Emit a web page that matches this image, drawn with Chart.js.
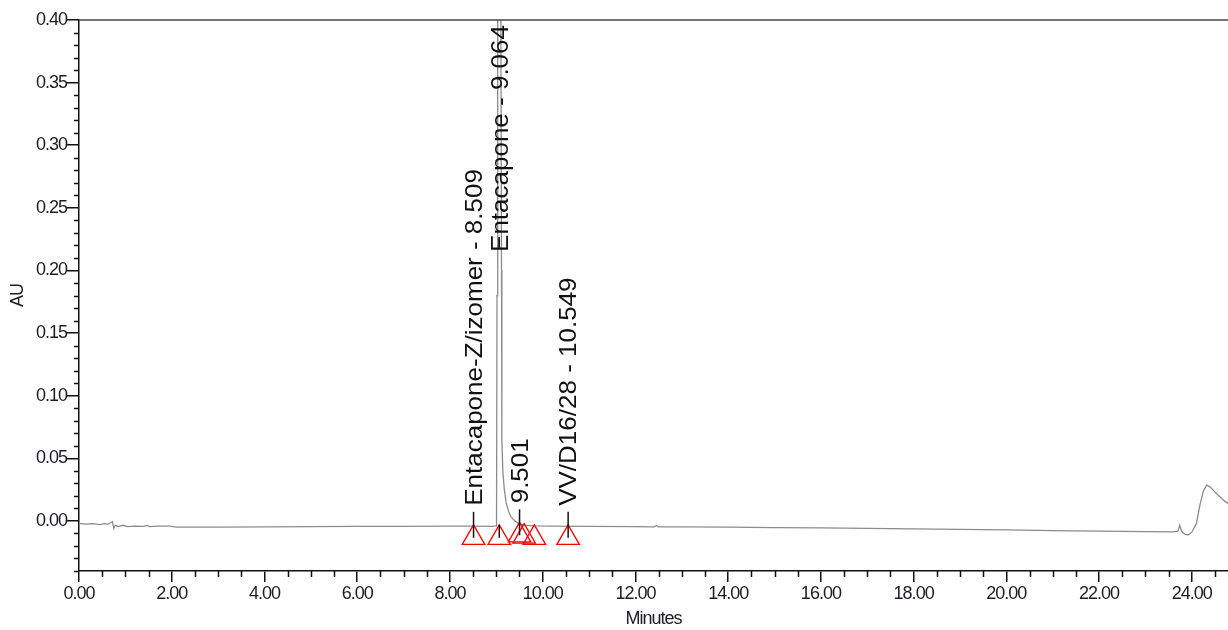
<!DOCTYPE html>
<html>
<head>
<meta charset="utf-8">
<script src="https://cdn.jsdelivr.net/npm/chart.js@4.4.1/dist/chart.umd.min.js"></script>
<style>
html,body{margin:0;padding:0;background:#fff;}
canvas{display:block;}
</style>
</head>
<body>
<canvas id="c" width="1228" height="630"></canvas>
<script>
// ---- data ----
const retentionTime = [0.00,0.15,0.30,0.45,0.55,0.62,0.68,0.72,0.75,0.78,0.85,0.95,1.05,1.20,1.40,1.47,1.52,1.70,1.95,2.10,3.00,4.00,5.00,6.00,7.00,8.00,8.50,8.90,9.00,9.005,9.015,9.03,9.064,9.095,9.112,9.12,9.14,9.17,9.21,9.26,9.32,9.40,9.50,9.65,9.85,10.20,11.00,12.00,12.40,12.45,12.50,13.00,14.00,15.00,16.00,17.00,18.00,19.00,20.00,21.00,22.00,23.00,23.60,23.70,23.74,23.78,23.85,23.92,24.00,24.10,24.17,24.25,24.32,24.40,24.50,24.60,24.70,24.78];
const absorbance = [-0.0020,-0.0025,-0.0022,-0.0030,-0.0022,-0.0028,-0.0015,-0.0005,-0.0060,-0.0035,-0.0045,-0.0035,-0.0045,-0.0042,-0.0044,-0.0036,-0.0046,-0.0042,-0.0042,-0.0050,-0.0050,-0.0048,-0.0046,-0.0044,-0.0043,-0.0042,-0.0042,-0.0043,-0.0040,0.0000,0.18,0.45,0.52,0.45,0.20,0.065,0.040,0.026,0.015,0.008,0.003,0.000,-0.0025,-0.0036,-0.0040,-0.0042,-0.0044,-0.0046,-0.0047,-0.0038,-0.0047,-0.0048,-0.0050,-0.0053,-0.0056,-0.0059,-0.0063,-0.0067,-0.0072,-0.0077,-0.0082,-0.0086,-0.0088,-0.0082,-0.0035,-0.0085,-0.0105,-0.0112,-0.0090,-0.0020,0.0120,0.0240,0.0285,0.0270,0.0230,0.0195,0.0160,0.0140];

const markerTimes = [8.509, 9.064, 9.501, 9.60, 9.82, 10.549];
const markerAU    = [-0.0135, -0.0135, -0.0115, -0.0125, -0.0135, -0.0135];

const peakNames = ['Entacapone-Z/izomer - 8.509', 'Entacapone - 9.064', '9.501', 'VV/D16/28 - 10.549'];
const peakTimes = [8.509, 9.064, 9.501, 10.549];
const peakMarkerAU = [-0.0135, -0.0135, -0.0115, -0.0135];
const peakLabelOnTop = [false, true, false, false];

const xTickValues = [0,2,4,6,8,10,12,14,16,18,20,22,24];
const yTickValues = [0.00,0.05,0.10,0.15,0.20,0.25,0.30,0.35,0.40];
const xTitle = 'Minutes';
const yTitle = 'AU';

// ---- drawing ----
const FONT = "'Liberation Sans', Arial, sans-serif";
const SX = 0.886;   // horizontal squeeze of the original picture
const MARK_R = 13;

const extras = {
  id: 'extras',
  beforeDraw(chart) {
    chart.ctx.letterSpacing = '-1px';
  },
  afterDraw(chart) {
    const ctx = chart.ctx;
    const xs = chart.scales.x, ys = chart.scales.y;
    const a = chart.chartArea;
    ctx.save();
    ctx.letterSpacing = '0px';
    // top frame line
    ctx.strokeStyle = '#444';
    ctx.lineWidth = 1.5;
    ctx.beginPath();
    ctx.moveTo(a.left, a.top);
    ctx.lineTo(a.right, a.top);
    ctx.stroke();
    // minor ticks
    ctx.strokeStyle = '#111';
    ctx.lineWidth = 1.5;
    ctx.beginPath();
    for (let k = -4; k <= 40; k++) {
      if (k % 5 === 0) continue;
      const py = Math.round(ys.getPixelForValue(k / 100)) + 0.5;
      ctx.moveTo(a.left - 5, py);
      ctx.lineTo(a.left, py);
    }
    for (let k = 1; k <= 49; k++) {
      if (k % 4 === 0) continue;
      const v = k * 0.5;
      if (v > xs.max) break;
      const px = Math.round(xs.getPixelForValue(v)) + 0.5;
      ctx.moveTo(px, a.bottom);
      ctx.lineTo(px, a.bottom + 6);
    }
    ctx.stroke();

    // peak labels
    const size = 26;
    ctx.font = size + 'px ' + FONT;
    ctx.fillStyle = '#111';
    ctx.strokeStyle = '#111';
    ctx.lineWidth = 1.5;
    peakNames.forEach((name, i) => {
      const px = xs.getPixelForValue(peakTimes[i]);
      const cy = ys.getPixelForValue(peakMarkerAU[i]);
      const apex = cy - MARK_R;
      ctx.beginPath();
      if (peakLabelOnTop[i]) {
        ctx.moveTo(px, cy);
        ctx.lineTo(px, apex);
      } else {
        ctx.moveTo(px, cy);
        ctx.lineTo(px, apex - 13);
      }
      ctx.stroke();
      ctx.save();
      const base = 0.716 * size / 2;
      if (peakLabelOnTop[i]) {
        ctx.translate(px, a.top + 5);
        ctx.scale(SX, 1);
        ctx.rotate(-Math.PI / 2);
        ctx.textAlign = 'right';
      } else {
        ctx.translate(px, apex - 19);
        ctx.scale(SX, 1);
        ctx.rotate(-Math.PI / 2);
        ctx.textAlign = 'left';
      }
      ctx.textBaseline = 'alphabetic';
      ctx.fillText(name, 0, base);
      ctx.restore();
    });
    ctx.restore();
  }
};

new Chart(document.getElementById('c'), {
  type: 'scatter',
  data: {
    datasets: [
      {
        type: 'line',
        data: retentionTime.map((t, i) => ({x: t, y: absorbance[i]})),
        borderColor: '#8c8c8c',
        borderWidth: 1.3,
        pointRadius: 0,
        tension: 0,
        fill: false,
        order: 2
      },
      {
        type: 'scatter',
        data: markerTimes.map((t, i) => ({x: t, y: markerAU[i]})),
        pointStyle: 'triangle',
        pointRadius: MARK_R,
        borderColor: '#ff0000',
        backgroundColor: 'rgba(0,0,0,0)',
        borderWidth: 1.3,
        order: 1
      }
    ]
  },
  options: {
    responsive: false,
    animation: false,
    devicePixelRatio: 1,
    layout: {autoPadding: false, padding: {top: 20, right: 0, bottom: 0, left: 0}},
    plugins: {legend: {display: false}, tooltip: {enabled: false}},
    scales: {
      x: {
        type: 'linear',
        min: 0,
        max: 24.78,
        afterBuildTicks: s => { s.ticks = xTickValues.map(v => ({value: v})); },
        afterFit: s => { s.height = 59; s.paddingRight = 0; s.paddingLeft = 0; },
        grid: {drawOnChartArea: false, tickLength: 11, color: '#111', lineWidth: 1.5},
        border: {color: '#111', width: 1.5},
        ticks: {
          callback: v => Number(v).toFixed(2),
          font: {family: FONT, size: 18},
          color: '#1c1c2a',
          padding: 1,
          maxRotation: 0,
          autoSkip: false
        },
        title: {display: true, text: xTitle, font: {family: FONT, size: 18}, color: '#1c1c2a', padding: {top: 0, bottom: 0}}
      },
      y: {
        type: 'linear',
        min: -0.04,
        max: 0.40,
        afterBuildTicks: s => { s.ticks = yTickValues.map(v => ({value: v})); },
        afterFit: s => { s.width = 79; s.paddingTop = 0; s.paddingBottom = 0; },
        grid: {drawOnChartArea: false, tickLength: 12, color: '#111', lineWidth: 1.5},
        border: {color: '#111', width: 1.5},
        ticks: {
          callback: v => Number(v).toFixed(2),
          font: {family: FONT, size: 18},
          color: '#1c1c2a',
          padding: 0,
          autoSkip: false
        },
        title: {display: true, text: yTitle, font: {family: FONT, size: 18}, color: '#1c1c2a', padding: {top: 7, bottom: 0}}
      }
    }
  },
  plugins: [extras]
});
</script>
</body>
</html>
